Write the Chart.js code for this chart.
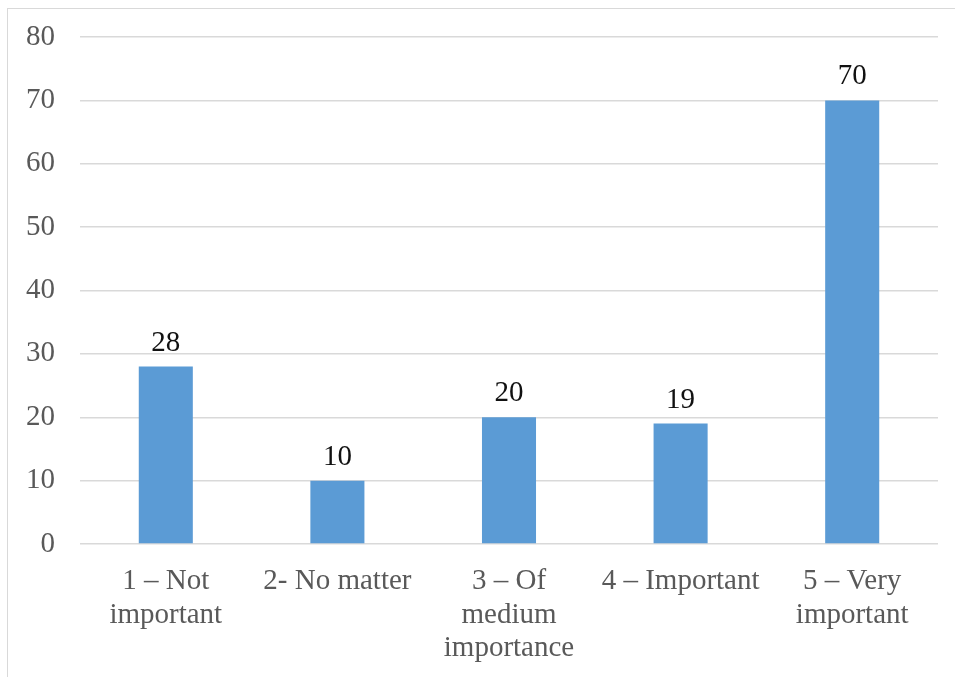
<!DOCTYPE html>
<html>
<head>
<meta charset="utf-8">
<script src="https://cdn.jsdelivr.net/npm/chart.js@4"></script>
<style>
  html, body { margin: 0; padding: 0; background: #fff; overflow: hidden; }
  .frame {
    position: absolute; left: 7px; top: 8px; width: 960px; height: 700px;
    border: 1px solid #d9d9d9; box-sizing: border-box;
  }
  .wrap { position: absolute; left: 0; top: 0; width: 955px; height: 677px; }
</style>
</head>
<body>
<div class="frame"></div>
<div class="wrap"><canvas id="myChart" width="955" height="677"></canvas></div>
<script>
var categories = [
  ["1 – Not", "important"],
  "2- No matter",
  ["3 – Of", "medium", "importance"],
  "4 – Important",
  ["5 – Very", "important"],
];
var counts = [28, 10, 20, 19, 70];
var yTicks = [0, 10, 20, 30, 40, 50, 60, 70, 80];

var serif = "'Liberation Serif', 'Times New Roman', serif";

// draws the value above every bar
const valueLabels = {
  id: "valueLabels",
  afterDatasetsDraw(chart) {
    const ctx = chart.ctx;
    ctx.save();
    ctx.font = "29px " + serif;
    ctx.fillStyle = "#111";
    ctx.textAlign = "center";
    ctx.textBaseline = "alphabetic";
    chart.getDatasetMeta(0).data.forEach((bar, i) => {
      ctx.fillText(String(counts[i]), bar.x, bar.y - 16);
    });
    ctx.restore();
  },
};

const data = {
  labels: categories,
  datasets: [
    {
      data: counts,
      backgroundColor: "#5b9bd5",
      barPercentage: 0.63,
      categoryPercentage: 0.5,
    },
  ],
};

const config = {
  type: "bar",
  data: data,
  plugins: [valueLabels],
  options: {
    responsive: false,
    animation: false,
    layout: { padding: { top: 37, right: 17, left: 0, bottom: 0 } },
    plugins: {
      legend: { display: false },
      tooltip: { enabled: false },
    },
    scales: {
      x: {
        grid: { display: false },
        border: { display: false },
        ticks: {
          color: "#595959",
          font: { family: serif, size: 29, lineHeight: 1.17 },
          padding: 12,
          maxRotation: 0,
          autoSkip: false,
        },
        afterFit(scale) {
          scale.height = 133;
          scale.paddingLeft = 0;
          scale.paddingRight = 0;
        },
      },
      y: {
        min: 0,
        max: 80,
        afterBuildTicks(scale) {
          scale.ticks = yTicks.map((v) => ({ value: v }));
        },
        grid: { color: "#d9d9d9", lineWidth: 1.5, drawTicks: false },
        border: { display: false },
        ticks: {
          color: "#595959",
          font: { family: serif, size: 29 },
          padding: 25,
        },
        afterFit(scale) {
          scale.width = 80;
          scale.paddingTop = 0;
          scale.paddingBottom = 0;
        },
      },
    },
  },
};

new Chart(document.getElementById("myChart"), config);
</script>
</body>
</html>
